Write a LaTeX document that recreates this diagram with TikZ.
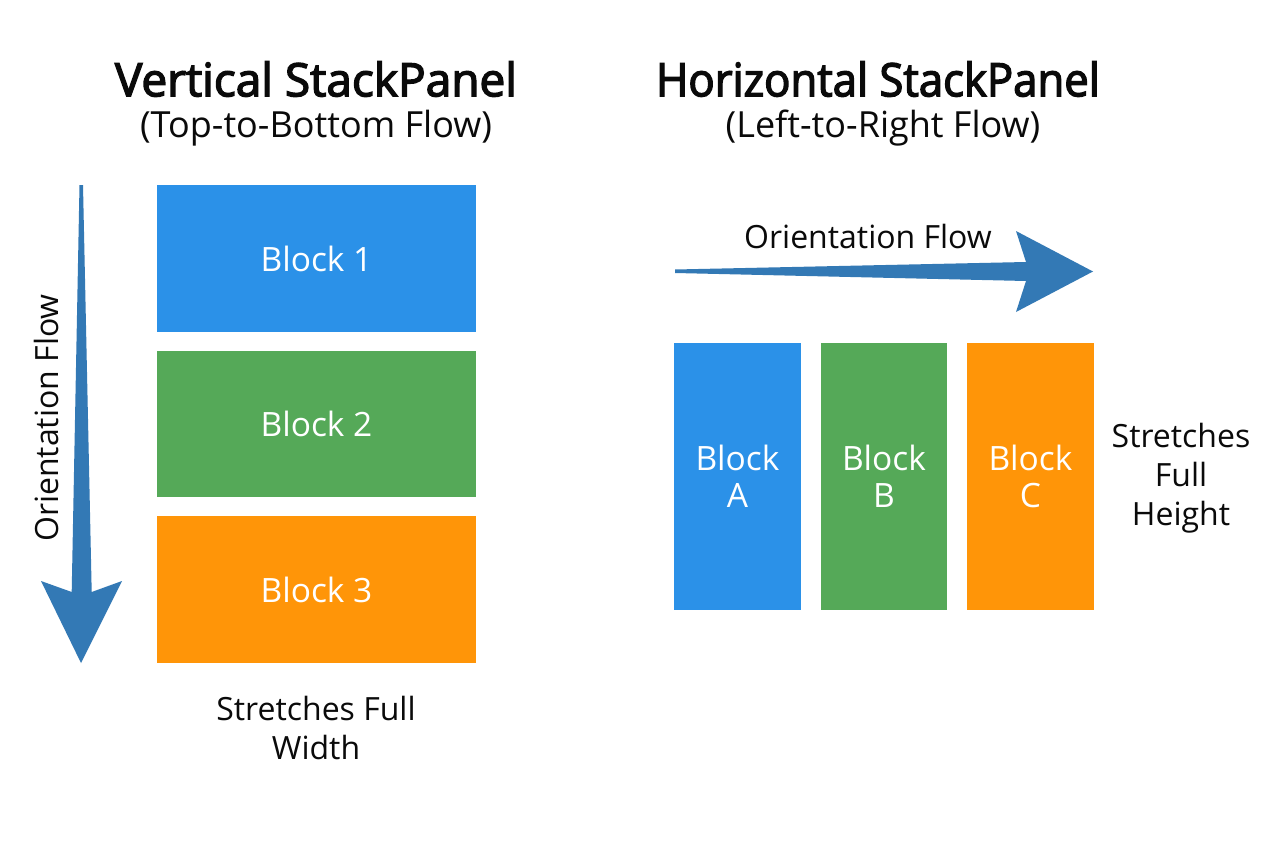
\documentclass[tikz,border=0pt]{standalone}
\usepackage{fontspec}
\setmainfont{Open Sans}
\newfontfamily\titlefont[FakeBold=3]{Open Sans}
\definecolor{bblue}{HTML}{2B91E8}
\definecolor{bgreen}{HTML}{55A958}
\definecolor{borange}{HTML}{FF9508}
\definecolor{flow}{HTML}{3379B5}
\definecolor{ink}{HTML}{0A0A0A}
\newcommand{\fsz}[1]{\fontsize{#1}{#1}\selectfont}
\tikzset{
  blockbox/.style={fill=#1,draw=none,inner sep=0pt,text=white,align=center,font=\fsz{33.5}},
  titletext/.style={text=ink,inner sep=0pt,font=\fsz{46}\titlefont},
  subtext/.style={text=ink,inner sep=0pt,font=\fsz{36}},
  labeltext/.style={text=ink,inner sep=0pt,font=\fsz{32},align=center},
  flowarrow/.style={fill=flow,draw=none}
}
\begin{document}
\begin{tikzpicture}[x=1pt,y=-1pt]
\useasboundingbox (0,0) rectangle (1264,848);
\fill[white] (0,0) rectangle (1264,848);
\node[titletext] (vt) at (316,79) {Vertical StackPanel};
\node[subtext] (vs) at (316,128) {(Top-to-Bottom Flow)};
\node[titletext,xscale=0.95] (ht) at (878,79) {Horizontal StackPanel};
\node[subtext] (hs) at (883,128) {(Left-to-Right Flow)};
\node[blockbox=bblue,minimum width=319pt,minimum height=147pt] (b1) at (316.5,258.5) {Block 1};
\node[blockbox=bgreen,minimum width=319pt,minimum height=146pt] (b2) at (316.5,424) {Block 2};
\node[blockbox=borange,minimum width=319pt,minimum height=147pt] (b3) at (316.5,589.5) {Block 3};
\node[blockbox=bblue,minimum width=127pt,minimum height=267pt] (ba) at (737.5,476.5) {Block\\[4pt]A};
\node[blockbox=bgreen,minimum width=126pt,minimum height=267pt] (bb) at (884,476.5) {Block\\[4pt]B};
\node[blockbox=borange,minimum width=127pt,minimum height=267pt] (bc) at (1030.5,476.5) {Block\\[4pt]C};
\node[labeltext] (lw) at (316,728) {Stretches Full\\[6.5pt]Width};
\node[labeltext] (lh) at (1181,478.5) {Stretches\\[7pt]Full\\[7pt]Height};
\node[labeltext,rotate=90] (lv) at (46,418) {Orientation Flow};
\node[labeltext] (lo) at (868,236) {Orientation Flow};
\fill[flowarrow] (79.5,185) -- (83,185) -- (91.7,592) -- (122,581) -- (81,663) -- (41,581) -- (71.7,592) -- cycle;
\fill[flowarrow] (675,269.5) -- (1026,262) -- (1016,231) -- (1093,271.5) -- (1016,312) -- (1026,281) -- (675,273) -- cycle;
\end{tikzpicture}
\end{document}
